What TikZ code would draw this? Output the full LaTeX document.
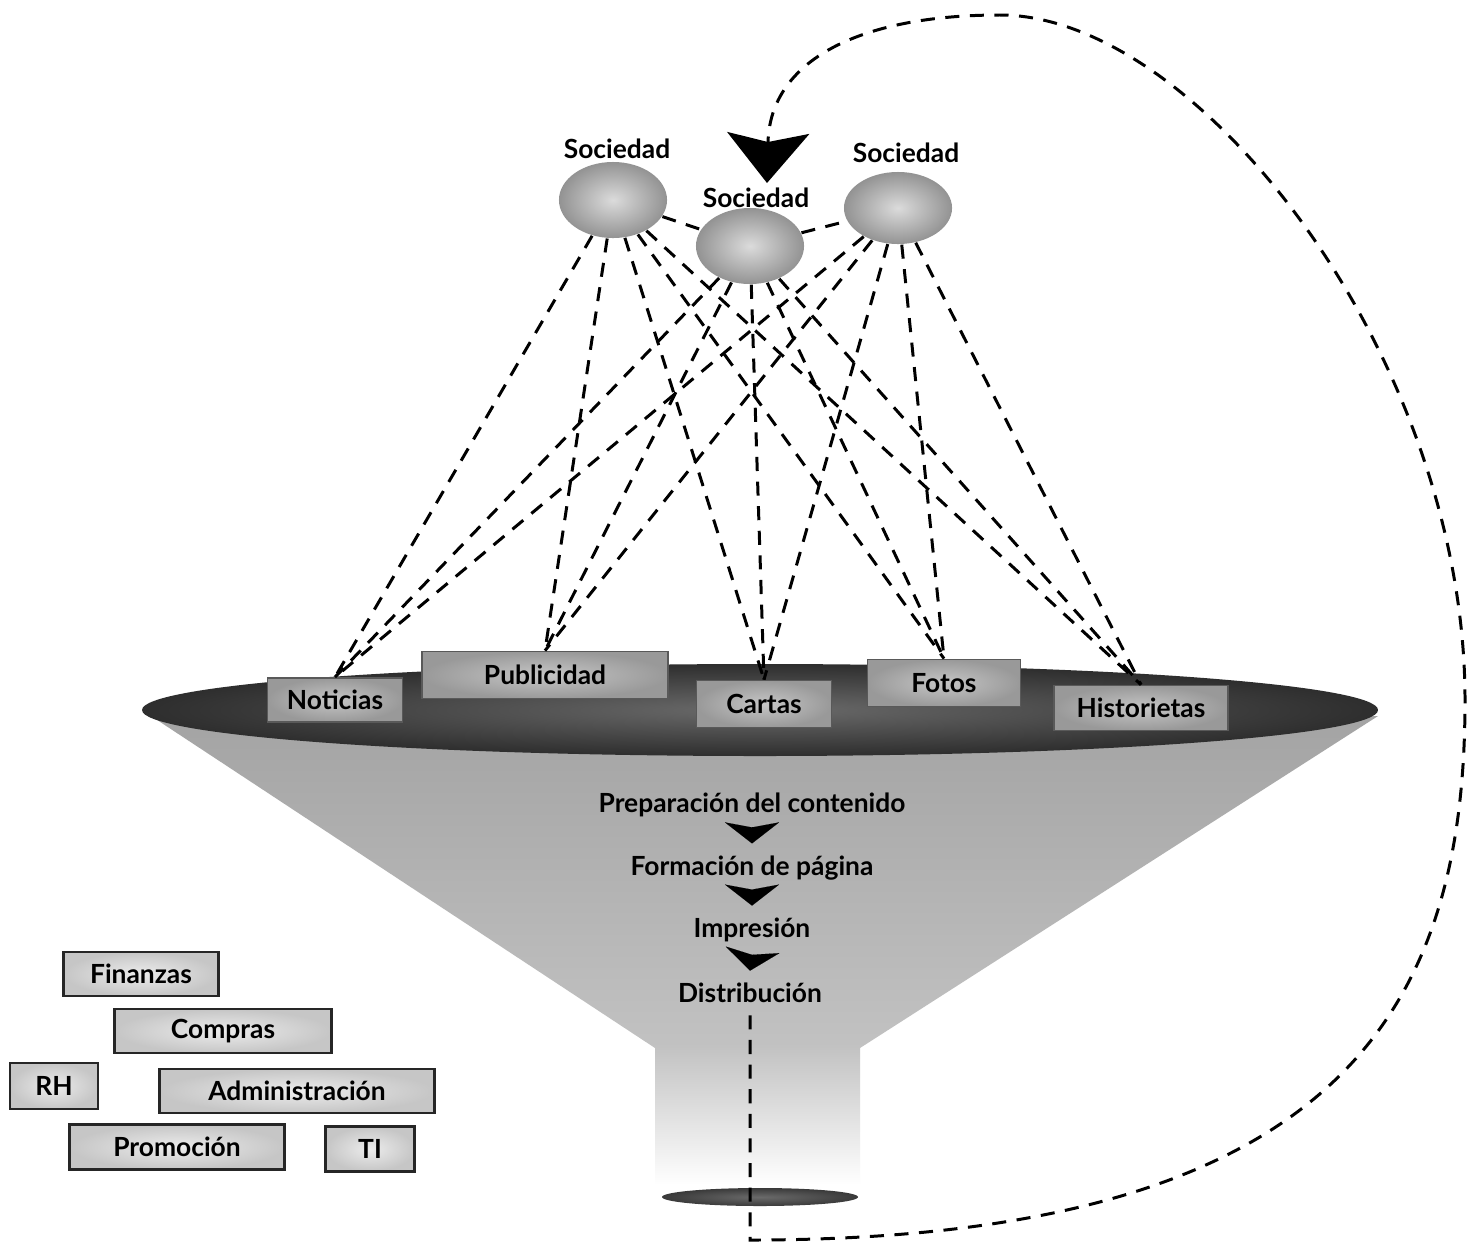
\documentclass[tikz,border=0pt]{standalone}
\usepackage{fontspec}
\setmainfont{Lato}
\usetikzlibrary{arrows.meta,shapes.geometric}
\definecolor{RimDark}{HTML}{3A3A3A}
\definecolor{RimMid}{HTML}{6A6A6A}
\tikzset{>=Stealth,every node/.style={font=\fontsize{7.5}{9}\selectfont\bfseries},
 socnode/.style={ellipse,minimum width=1.08cm,minimum height=0.76cm,inner color=gray!28,
 outer color=gray!85},
 pressbox/.style={draw=black!65,line width=0.5pt,inner color=gray!45,outer color=gray!80,
 inner sep=0pt},
 deptbox/.style={draw=black!85,line width=0.7pt,inner color=gray!15,outer color=gray!45,
 inner sep=0pt,minimum height=0.44cm},
 link/.style={draw=black,line width=0.85pt,dash pattern=on 4pt off 3pt},
 chev/.style={line width=0.01pt,-{Stealth[length=0.21cm,width=0.54cm,inset=0.05cm]}}}
\begin{document}
\begin{tikzpicture}[x=0.01cm,y=-0.01cm]
\useasboundingbox[fill=white] (0,0) rectangle (1473,1245);
% funnel
\shade[top color=black!36,bottom color=black!24] (145,712) -- (655,1048) -- (860,1048)
 -- (1378,716) -- cycle;
\shade[top color=black!24,bottom color=white] (655,1046) rectangle (860,1185);
\shade[inner color=RimMid,outer color=black!82] (760,710) ellipse [x radius=618,y radius=46];
\shade[inner color=RimMid,outer color=RimDark] (760,1197) ellipse [x radius=98,y radius=9];
% sociedad
\node[socnode] (socA) at (613,200) {};
\node[socnode] (socB) at (750,246) {};
\node[socnode,minimum height=0.72cm] (socC) at (898,208) {};
\node (socAlbl) at (617,149) {Sociedad};
\node (socBlbl) at (756,198) {Sociedad};
\node (socClbl) at (906,153) {Sociedad};
% secciones
\node[pressbox,minimum width=1.35cm,minimum height=0.44cm] (noticias) at (335,700) {Noticias};
\node[pressbox,minimum width=2.46cm,minimum height=0.47cm] (publicidad) at (545,675) {Publicidad};
\node[pressbox,minimum width=1.35cm,minimum height=0.47cm] (cartas) at (764,704) {Cartas};
\node[pressbox,minimum width=1.53cm,minimum height=0.47cm] (fotos) at (944,683) {Fotos};
\node[pressbox,minimum width=1.74cm,minimum height=0.45cm] (historietas) at (1141,708) {Historietas};
\draw[link] (socA) -- (socB);
\draw[link] (socB) -- (socC);
\foreach \s in {socA,socB,socC}
 \foreach \b in {noticias,publicidad,cartas,fotos,historietas}
  \draw[link] (\s) -- (\b.north);
% proceso
\node (prep) at (752,805) {Preparación del contenido};
\node (form) at (752,868) {Formación de página};
\node (impr) at (752,930) {Impresión};
\node (distrib) at (750,993) {Distribución};
\draw[chev] (prep.south) -- (form.north);
\draw[chev] (form.south) -- (impr.north);
\draw[chev] (impr.south) -- (distrib.north);
% retorno
\coordinate (corner) at (750,1240);
\coordinate (tip) at (767,183);
\draw[link,-{Stealth[length=0.5cm,width=0.82cm,inset=0.09cm]}] (distrib.south) -- (corner)
 .. controls (1350,1240) and (1465,1000) .. (1465,700)
 .. controls (1465,360) and (1200,15) .. (1000,15)
 .. controls (860,15) and (770,60) .. (tip);
% areas
\node[deptbox,minimum width=1.55cm] (finanzas) at (141,974) {Finanzas};
\node[deptbox,minimum width=2.17cm] (compras) at (223,1031) {Compras};
\node[deptbox,minimum width=0.88cm,minimum height=0.46cm] (rh) at (54,1086) {RH};
\node[deptbox,minimum width=2.75cm] (admin) at (297,1091) {Administración};
\node[deptbox,minimum width=2.15cm,minimum height=0.45cm] (promocion) at (177,1147) {Promoción};
\node[deptbox,minimum width=0.89cm,minimum height=0.45cm] (ti) at (370,1149) {TI};
\end{tikzpicture}
\end{document}
